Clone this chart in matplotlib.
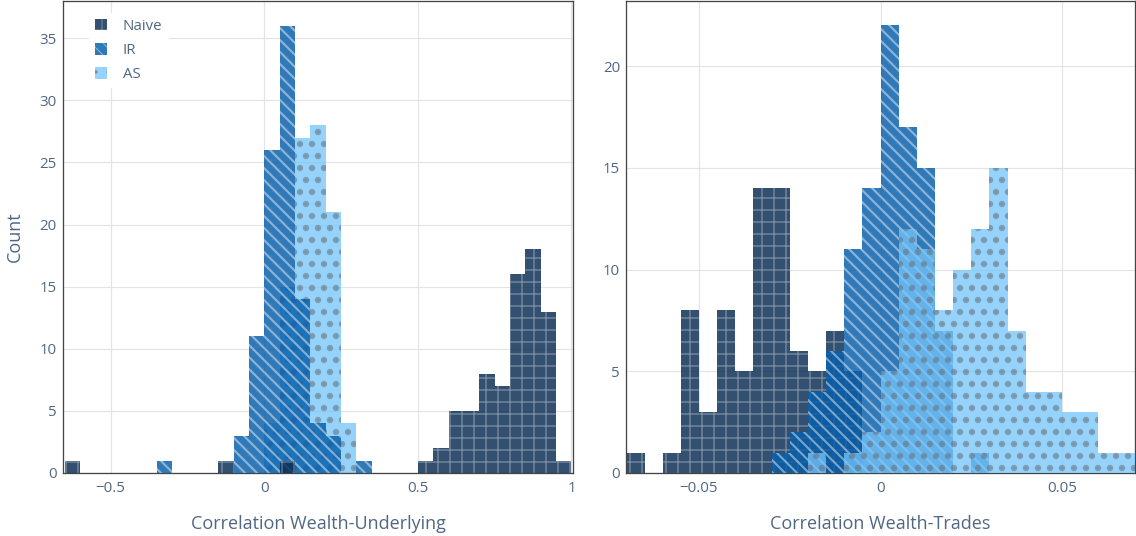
import numpy as np
import matplotlib
matplotlib.use("Agg")
import matplotlib.pyplot as plt
from matplotlib.ticker import FuncFormatter, MultipleLocator

plt.rcParams["font.family"] = ["Open Sans", "DejaVu Sans"]

# -----------------------------------------------------
# Data: histogram counts (bin left edge -> count)
# -----------------------------------------------------
series_names = ["Naive", "IR", "AS"]

# Left panel: Correlation Wealth-Underlying, bin width 0.05
wu_width = 0.05
wu_naive_bins = [-0.65, -0.15, 0.05, 0.50, 0.55, 0.60, 0.65, 0.70, 0.75, 0.80, 0.85, 0.90, 0.95]
wu_naive_counts = [1, 1, 1, 1, 2, 5, 5, 8, 7, 16, 18, 13, 1]
wu_ir_bins = [-0.35, -0.10, -0.05, 0.00, 0.05, 0.10, 0.15, 0.20, 0.30]
wu_ir_counts = [1, 3, 11, 26, 36, 14, 4, 3, 1]
wu_as_bins = [0.00, 0.05, 0.10, 0.15, 0.20, 0.25]
wu_as_counts = [4, 15, 27, 28, 21, 4]

# Right panel: Correlation Wealth-Trades, bin width 0.005
wt_width = 0.005
wt_naive_bins = [-0.070, -0.060, -0.055, -0.050, -0.045, -0.040, -0.035, -0.030,
                 -0.025, -0.020, -0.015, -0.010]
wt_naive_counts = [1, 1, 8, 3, 8, 5, 14, 14, 6, 5, 7, 5]
wt_ir_bins = [-0.030, -0.025, -0.020, -0.015, -0.010, -0.005, 0.000, 0.005,
              0.010, 0.015, 0.025]
wt_ir_counts = [1, 2, 4, 6, 11, 14, 22, 17, 15, 7, 1]
wt_as_bins = [-0.020, -0.010, -0.005, 0.000, 0.005, 0.010, 0.015, 0.020, 0.025,
              0.030, 0.035, 0.040, 0.045, 0.050, 0.055, 0.060, 0.065]
wt_as_counts = [1, 1, 2, 5, 12, 11, 8, 10, 12, 15, 7, 4, 4, 3, 3, 1, 1]

# -----------------------------------------------------
# Styles
# -----------------------------------------------------
TEXT = "#506784"
GRID = "#e4e4e4"
styles = {
    "Naive": dict(face=(11/255, 45/255, 83/255, 0.83), hatch="+",
                  hcol=(1, 1, 1, 0.35), hlw=1.3),
    "IR": dict(face=(6/255, 94/255, 171/255, 0.83), hatch="\\\\",
               hcol=(1, 1, 1, 0.45), hlw=2.1),
    "AS": dict(face=(117/255, 197/255, 250/255, 0.76), hatch=".",
               hcol=(0.40, 0.45, 0.50, 0.55), hlw=4.0),
}


def draw_bars(ax, name, bins, counts, width, z):
    st = styles[name]
    with plt.rc_context({"hatch.linewidth": st["hlw"]}):
        bars = ax.bar(bins, counts, width=width, align="edge",
                      color=st["face"], edgecolor=st["hcol"], linewidth=0,
                      hatch=st["hatch"], zorder=z, label=name)
    for p in bars.patches:
        if hasattr(p, "set_hatch_linewidth"):
            p.set_hatch_linewidth(st["hlw"])
    return bars


def minus_fmt(v, pos):
    return ("%g" % v).replace("-", "\u2212")


def style_axis(ax):
    ax.set_facecolor("white")
    ax.grid(True, color=GRID, linewidth=1.2, zorder=0)
    ax.set_axisbelow(True)
    for s in ax.spines.values():
        s.set_color("#444444")
        s.set_linewidth(1.3)
    ax.tick_params(length=0, labelsize=15, labelcolor=TEXT, pad=8)
    ax.tick_params(axis="y", pad=6)
    ax.xaxis.set_major_formatter(FuncFormatter(minus_fmt))
    ax.yaxis.set_major_locator(MultipleLocator(5))


fig = plt.figure(figsize=(1136 / 72, 536 / 72), dpi=72)
ax1 = fig.add_axes([63 / 1136, 63 / 536, 510 / 1136, 472 / 536])
ax2 = fig.add_axes([626 / 1136, 63 / 536, 509 / 1136, 472 / 536])

# Left panel (AS under IR under Naive)
h_as = draw_bars(ax1, "AS", wu_as_bins, wu_as_counts, wu_width, 2)
h_ir = draw_bars(ax1, "IR", wu_ir_bins, wu_ir_counts, wu_width, 3)
h_nv = draw_bars(ax1, "Naive", wu_naive_bins, wu_naive_counts, wu_width, 4)
style_axis(ax1)
ax1.set_xlim(-0.655, 1.005)
ax1.set_ylim(0, 38)
ax1.set_xticks([-0.5, 0, 0.5, 1])
ax1.set_xlabel("Correlation Wealth-Underlying", fontsize=18, color=TEXT, labelpad=19)
ax1.set_ylabel("Count", fontsize=18, color=TEXT, labelpad=16)

# Right panel (Naive under IR under AS)
draw_bars(ax2, "Naive", wt_naive_bins, wt_naive_counts, wt_width, 2)
draw_bars(ax2, "IR", wt_ir_bins, wt_ir_counts, wt_width, 3)
draw_bars(ax2, "AS", wt_as_bins, wt_as_counts, wt_width, 4)
style_axis(ax2)
ax2.set_xlim(-0.0701, 0.0701)
ax2.set_ylim(0, 23.2)
ax2.set_xticks([-0.05, 0, 0.05])
ax2.set_xlabel("Correlation Wealth-Trades", fontsize=18, color=TEXT, labelpad=19)

leg = ax1.legend([h_nv, h_ir, h_as], series_names, loc="upper left",
                 bbox_to_anchor=(0.05, 0.975), borderaxespad=0, fontsize=15,
                 labelcolor=TEXT, frameon=True, fancybox=False, framealpha=1.0,
                 handlelength=0.8, handleheight=0.8, handletextpad=1.1,
                 labelspacing=0.62, borderpad=0.4)
leg.get_frame().set_edgecolor("white")
leg.get_frame().set_linewidth(0)
leg.set_zorder(10)

fig.savefig("out.png", dpi=72)
